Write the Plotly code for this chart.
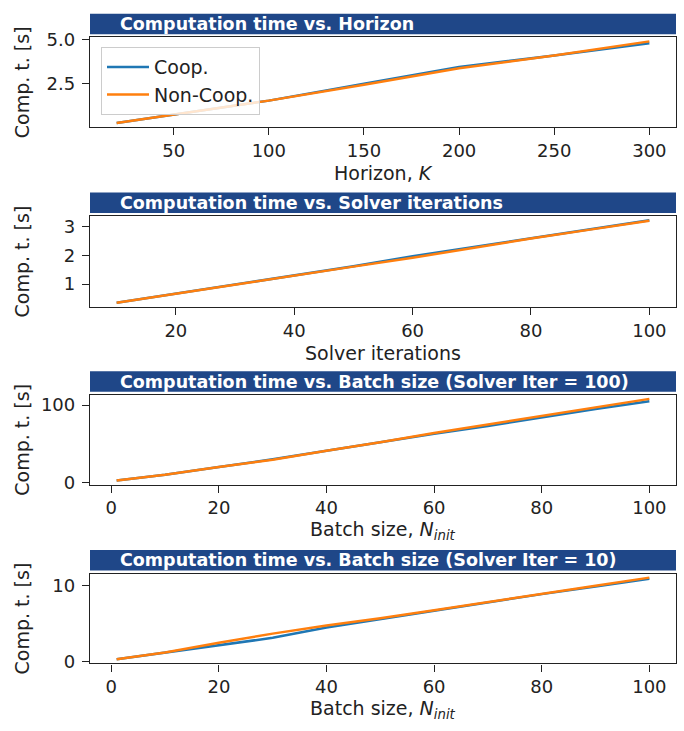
import plotly.graph_objects as go

# ---------------- data ----------------
horizon_k = [20, 50, 100, 150, 200, 250, 300]
horizon_coop = [0.28, 0.75, 1.55, 2.50, 3.45, 4.10, 4.80]
horizon_noncoop = [0.28, 0.75, 1.55, 2.45, 3.38, 4.10, 4.90]

iters = [10, 20, 30, 40, 50, 60, 70, 80, 90, 100]
iters_coop = [0.35, 0.67, 0.98, 1.30, 1.62, 1.97, 2.28, 2.60, 2.91, 3.23]
iters_noncoop = [0.35, 0.67, 0.98, 1.30, 1.61, 1.92, 2.26, 2.59, 2.90, 3.21]

batch = [1, 10, 20, 30, 40, 50, 60, 70, 80, 90, 100]
batch100_coop = [2.5, 10, 20, 30, 41, 52, 63, 73, 84, 95, 105]
batch100_noncoop = [2.5, 10, 20, 29.5, 41, 52, 64, 75, 86, 97, 108]

batch10_coop = [0.35, 1.20, 2.15, 3.15, 4.50, 5.60, 6.70, 7.80, 8.85, 9.85, 10.85]
batch10_noncoop = [0.35, 1.25, 2.50, 3.70, 4.75, 5.70, 6.75, 7.85, 8.90, 9.95, 11.00]

titles = [
    "Computation time vs. Horizon",
    "Computation time vs. Solver iterations",
    "Computation time vs. Batch size (Solver Iter = 100)",
    "Computation time vs. Batch size (Solver Iter = 10)",
]
xlabels = [
    "Horizon, <i>K</i>",
    "Solver iterations",
    "Batch size, <i>N</i><sub><i>init</i></sub>",
    "Batch size, <i>N</i><sub><i>init</i></sub>",
]
ylabel = "Comp. t. [s]"
series_names = ["Coop.", "Non-Coop."]

panels = [
    (horizon_k, horizon_coop, horizon_noncoop, dict(tickvals=[50, 100, 150, 200, 250, 300]), dict(tickvals=[2.5, 5.0], tickformat=".1f")),
    (iters, iters_coop, iters_noncoop, dict(tickvals=[20, 40, 60, 80, 100]), dict(tickvals=[1, 2, 3])),
    (batch, batch100_coop, batch100_noncoop, dict(tickvals=[0, 20, 40, 60, 80, 100]), dict(tickvals=[0, 100])),
    (batch, batch10_coop, batch10_noncoop, dict(tickvals=[0, 20, 40, 60, 80, 100]), dict(tickvals=[0, 10])),
]

# ---------------- layout geometry (pixels) ----------------
W, H = 684, 731
LEFT, RIGHT = 90, 676
BOXES = [(30, 122), (213, 306), (396, 488), (579, 671)]
BLUE = "#1f77b4"
ORANGE = "#ff7f0e"
BAR = "#1f4788"
FONT = "DejaVu Sans"
TXT = "#222222"


def px_x(x):
    return x / W


def px_y(y):
    return 1 - y / H


def padded(vals, frac=0.05):
    lo, hi = min(vals), max(vals)
    d = (hi - lo) * frac
    return [lo - d, hi + d]


fig = go.Figure()
shapes = []
annotations = []

for i, (xs, yc, yn, xt, yt) in enumerate(panels):
    n = "" if i == 0 else str(i + 1)
    top, bot = BOXES[i]
    fig.add_trace(go.Scatter(x=xs, y=yc, mode="lines", name=series_names[0],
                             line=dict(color=BLUE, width=2.5),
                             xaxis="x" + n, yaxis="y" + n, showlegend=(i == 0)))
    fig.add_trace(go.Scatter(x=xs, y=yn, mode="lines", name=series_names[1],
                             line=dict(color=ORANGE, width=2.5),
                             xaxis="x" + n, yaxis="y" + n, showlegend=(i == 0)))
    common = dict(showline=True, mirror=True, linecolor=TXT, linewidth=1.3,
                  ticks="outside", ticklen=7, tickwidth=1.2, tickcolor=TXT,
                  showgrid=False, zeroline=False,
                  tickfont=dict(family=FONT, size=18, color=TXT))
    fig.layout["xaxis" + n] = dict(domain=[px_x(LEFT), px_x(RIGHT)], anchor="y" + n,
                                   range=padded(xs), tickmode="array",
                                   ticklabelstandoff=0, **xt, **common)
    fig.layout["yaxis" + n] = dict(domain=[px_y(bot), px_y(top)], anchor="x" + n,
                                   range=padded(yc + yn), tickmode="array",
                                   ticklabelstandoff=3, **yt, **common)
    # title bar
    shapes.append(dict(type="rect", xref="paper", yref="paper",
                       x0=px_x(LEFT), x1=px_x(RIGHT),
                       y0=px_y(top - 3), y1=px_y(top - 24),
                       fillcolor=BAR, line=dict(width=0), layer="above"))
    annotations.append(dict(text="<b>" + titles[i] + "</b>", xref="paper", yref="paper",
                            x=px_x(118), y=px_y(top - 13.5), xanchor="left", yanchor="middle",
                            showarrow=False,
                            font=dict(family=FONT, size=17.5, color="white")))
    # axis labels
    annotations.append(dict(text=xlabels[i], xref="paper", yref="paper",
                            x=px_x((LEFT + RIGHT) / 2), y=px_y(bot + 47),
                            xanchor="center", yanchor="middle", showarrow=False,
                            font=dict(family=FONT, size=19, color=TXT)))
    annotations.append(dict(text=ylabel, xref="paper", yref="paper",
                            x=px_x(22), y=px_y((top + bot) / 2), textangle=-90,
                            xanchor="center", yanchor="middle", showarrow=False,
                            font=dict(family=FONT, size=19, color=TXT)))

fig.update_layout(
    width=W, height=H,
    margin=dict(l=0, r=0, t=0, b=0),
    paper_bgcolor="white", plot_bgcolor="white",
    shapes=shapes, annotations=annotations,
    font=dict(family=FONT, size=18, color=TXT),
    legend=dict(x=px_x(101), y=px_y(40), xanchor="left", yanchor="top",
                bgcolor="rgba(255,255,255,0.8)", bordercolor="#cccccc", borderwidth=1,
                font=dict(family=FONT, size=19, color=TXT),
                itemwidth=42),
)

fig.write_html("out.html", config={"displayModeBar": False},
               post_script="document.body.style.margin='0px';")
